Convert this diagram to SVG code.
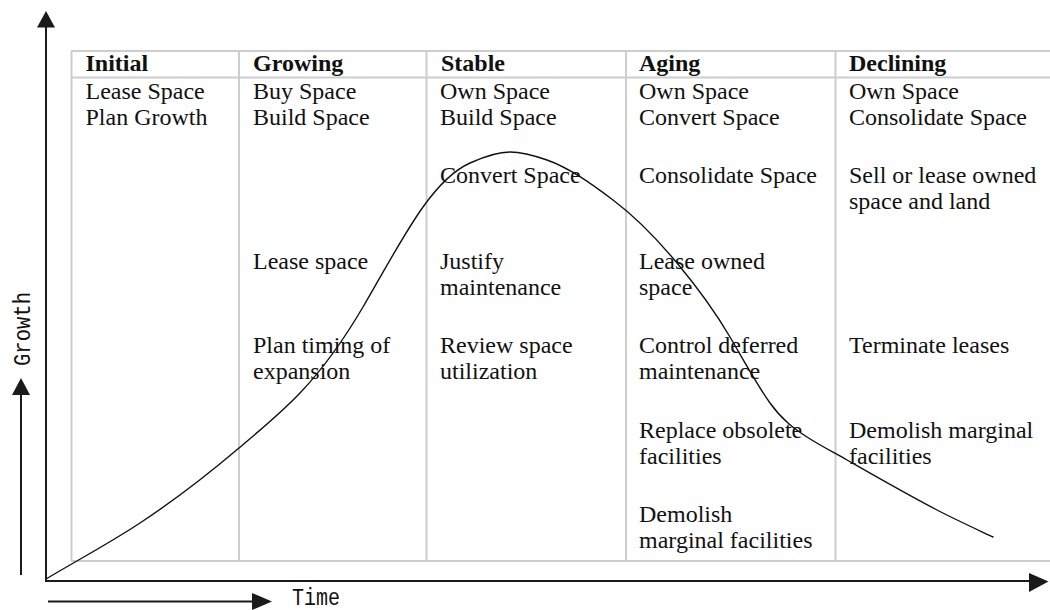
<svg xmlns="http://www.w3.org/2000/svg" width="1050" height="610" viewBox="0 0 1050 610">
  <style>
    .grid { stroke: #cdcdcd; stroke-width: 2; fill: none; }
    .axis { stroke: #1a1a1a; stroke-width: 2; fill: none; }
    .head { fill: #1a1a1a; }
    .hdr { font-family: "Liberation Serif", "Times New Roman", serif; font-size: 24px; font-weight: bold; fill: #111; }
    .cell { font-family: "Liberation Serif", "Times New Roman", serif; font-size: 24px; fill: #111; }
    .lbl { font-family: "Liberation Mono", "Courier New", monospace; font-size: 23px; fill: #111; }
    .curve { stroke: #111; stroke-width: 1.4; fill: none; stroke-linejoin: round; stroke-linecap: round; }
  </style>

  <rect width="1050" height="610" fill="#ffffff"/>

  <!-- table grid: header row and five stage columns -->
  <g id="table-grid" class="grid">
    <line x1="71" y1="51" x2="1052" y2="51"/>
    <line x1="71" y1="77.5" x2="1052" y2="77.5"/>
    <line x1="71" y1="561" x2="1052" y2="561"/>
    <line x1="71.5" y1="51" x2="71.5" y2="561"/>
    <line x1="239" y1="51" x2="239" y2="561"/>
    <line x1="426.5" y1="51" x2="426.5" y2="561"/>
    <line x1="626" y1="51" x2="626" y2="561"/>
    <line x1="835.5" y1="51" x2="835.5" y2="561"/>
  </g>

  <!-- stage columns -->
  <g id="col-initial">
    <text class="hdr" x="85.5" y="71">Initial</text>
    <text class="cell" x="85.5" y="99">Lease Space</text>
    <text class="cell" x="85.5" y="125">Plan Growth</text>
  </g>

  <g id="col-growing">
    <text class="hdr" x="253" y="71">Growing</text>
    <text class="cell" x="253" y="99">Buy Space</text>
    <text class="cell" x="253" y="125">Build Space</text>
    <text class="cell" x="253" y="269">Lease space</text>
    <text class="cell" x="253" y="353">Plan timing of</text>
    <text class="cell" x="253" y="379">expansion</text>
  </g>

  <g id="col-stable">
    <text class="hdr" x="441" y="71">Stable</text>
    <text class="cell" x="440" y="99">Own Space</text>
    <text class="cell" x="440" y="125">Build Space</text>
    <text class="cell" x="440" y="183">Convert Space</text>
    <text class="cell" x="440" y="269">Justify</text>
    <text class="cell" x="440" y="295">maintenance</text>
    <text class="cell" x="440" y="353">Review space</text>
    <text class="cell" x="440" y="379">utilization</text>
  </g>

  <g id="col-aging">
    <text class="hdr" x="639" y="71">Aging</text>
    <text class="cell" x="639" y="99">Own Space</text>
    <text class="cell" x="639" y="125">Convert Space</text>
    <text class="cell" x="639" y="183">Consolidate Space</text>
    <text class="cell" x="639" y="269">Lease owned</text>
    <text class="cell" x="639" y="295">space</text>
    <text class="cell" x="639" y="353">Control deferred</text>
    <text class="cell" x="639" y="379">maintenance</text>
    <text class="cell" x="639" y="438">Replace obsolete</text>
    <text class="cell" x="639" y="464">facilities</text>
    <text class="cell" x="639" y="522">Demolish</text>
    <text class="cell" x="639" y="548">marginal facilities</text>
  </g>

  <g id="col-declining">
    <text class="hdr" x="849" y="71">Declining</text>
    <text class="cell" x="849" y="99">Own Space</text>
    <text class="cell" x="849" y="125">Consolidate Space</text>
    <text class="cell" x="849" y="183">Sell or lease owned</text>
    <text class="cell" x="849" y="209">space and land</text>
    <text class="cell" x="849" y="353">Terminate leases</text>
    <text class="cell" x="849" y="438">Demolish marginal</text>
    <text class="cell" x="849" y="464">facilities</text>
  </g>

  <!-- life-cycle growth curve (piecewise Hermite segments) -->
  <g id="lifecycle-curve">
    <path class="curve" d="M46,579
      C77.3,560.2 108.7,543.7 140,523
      C173,501.2 206,476 239,448
      C259.3,430.7 279.7,414.3 300,393
      C321,371 342,342.7 363,307
      C383,273 403,235 423,207
      C438.7,185 454.3,170.1 470,163
      C483.3,157 496.7,152 510,152
      C522.3,152 534.7,155.7 547,160
      C569,167.7 591,183.5 613,200
      C634.3,216 655.7,237.4 677,263
      C694.7,284.2 712.3,306.9 730,337
      C743.3,359.6 756.7,384.4 770,403
      C782.3,420.2 794.7,429 807,437
      C820.3,445.6 833.7,452.4 847,460
      C877,477.1 907,494.4 937,510
      C955.7,519.7 974.3,528.2 993,537"/>
  </g>

  <!-- axes -->
  <g id="axes">
    <line class="axis" x1="46" y1="24" x2="46" y2="582"/>
    <polygon class="head" points="46,11 37,27.5 55,27.5"/>
    <line class="axis" x1="45" y1="581" x2="1032" y2="581"/>
    <polygon class="head" points="1048.5,581.5 1029,573 1029,592"/>
  </g>

  <!-- axis captions -->
  <g id="growth-label">
    <line class="axis" x1="21" y1="392" x2="21" y2="575"/>
    <polygon class="head" points="21,378 12,395 30,395"/>
    <text class="lbl" transform="translate(29.5,329) rotate(-90)" text-anchor="middle" textLength="74" lengthAdjust="spacingAndGlyphs">Growth</text>
  </g>

  <g id="time-label">
    <line class="axis" x1="48" y1="601.5" x2="254" y2="601.5"/>
    <polygon class="head" points="272,601.5 252,593 252,610"/>
    <text class="lbl" x="292" y="605" textLength="48" lengthAdjust="spacingAndGlyphs">Time</text>
  </g>
</svg>
